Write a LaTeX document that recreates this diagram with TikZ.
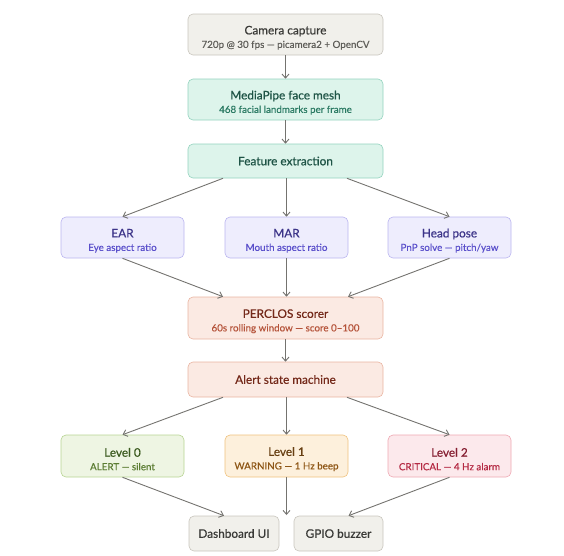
\documentclass[tikz,border=0pt]{standalone}
\usepackage{fontspec}
\setmainfont{Lato}
\usepackage{tikz}
\usetikzlibrary{arrows.meta,calc,positioning}
\definecolor{greyfill}{HTML}{F1F0EB}
\definecolor{greyline}{HTML}{C8C5BD}
\definecolor{greytext}{HTML}{3A3A37}
\definecolor{greysub}{HTML}{5F5E59}
\definecolor{mintfill}{HTML}{DDF4EB}
\definecolor{mintline}{HTML}{93D3BE}
\definecolor{minttext}{HTML}{1E5446}
\definecolor{mintsub}{HTML}{2A7A63}
\definecolor{lilafill}{HTML}{EEEDFD}
\definecolor{lilaline}{HTML}{BAB5EF}
\definecolor{lilatext}{HTML}{3C3489}
\definecolor{lilasub}{HTML}{5A4FCB}
\definecolor{rosefill}{HTML}{FBEAE3}
\definecolor{roseline}{HTML}{E9B4A1}
\definecolor{rosetext}{HTML}{74291A}
\definecolor{rosesub}{HTML}{B5533A}
\definecolor{leaffill}{HTML}{EEF5E3}
\definecolor{leafline}{HTML}{B7D492}
\definecolor{leaftext}{HTML}{3B5A1F}
\definecolor{leafsub}{HTML}{5B7C32}
\definecolor{ambrfill}{HTML}{FDF0DC}
\definecolor{ambrline}{HTML}{EFC27E}
\definecolor{ambrtext}{HTML}{673F12}
\definecolor{ambrsub}{HTML}{8E5615}
\definecolor{redfill}{HTML}{FCE9EC}
\definecolor{redline}{HTML}{EEA8B3}
\definecolor{redtext}{HTML}{851E31}
\definecolor{redsub}{HTML}{B52A44}
\definecolor{arrowgrey}{HTML}{74736F}
\newcommand{\titlefont}{\fontsize{11.8}{14}\selectfont\addfontfeature{FakeBold=0.6}}
\newcommand{\subfont}{\fontsize{9.8}{12}\selectfont\addfontfeature{FakeBold=0.3}}
\newcommand{\boxlabel}[4]{\rule{0pt}{15pt}{\titlefont\color{#3}#1}\\[1.5pt]{\subfont\color{#4}#2}}

\begin{document}
\begin{tikzpicture}[x=1pt, y=-1pt,
    card/.style={draw, rounded corners=5pt, line width=0.6pt, align=center,
      inner sep=0pt, minimum width=195pt, minimum height=41pt},
    small card/.style={card, minimum width=123pt},
    flow/.style={-{Straight Barb[length=4pt,width=7pt]}, arrowgrey, line width=0.9pt}]
            \useasboundingbox (0,0) rectangle (564,555);
            % Pipeline stages
            \node[card, fill=greyfill, draw=greyline] (cam) at (285.5,34.5)
              {\boxlabel{Camera capture}{720p @ 30 fps — picamera2 + OpenCV}{greytext}{greysub}};
            \node[card, fill=mintfill, draw=mintline] (mesh) at (285.5,99.5)
              {\boxlabel{MediaPipe face mesh}{468 facial landmarks per frame}{minttext}{mintsub}};
            \node[card, fill=mintfill, draw=mintline, minimum height=34pt] (feat) at (285.5,161)
              {\titlefont\color{minttext}Feature extraction};
            % Features
            \node[small card, fill=lilafill, draw=lilaline] (ear) at (122.5,237.5)
              {\boxlabel{EAR}{Eye aspect ratio}{lilatext}{lilasub}};
            \node[small card, fill=lilafill, draw=lilaline] (mar) at (286.5,237.5)
              {\boxlabel{MAR}{Mouth aspect ratio}{lilatext}{lilasub}};
            \node[small card, fill=lilafill, draw=lilaline] (pose) at (449.5,237.5)
              {\boxlabel{Head pose}{PnP solve — pitch/yaw}{lilatext}{lilasub}};
            % Scoring
            \node[card, fill=rosefill, draw=roseline, minimum height=42pt] (score) at (285.5,318)
              {\boxlabel{PERCLOS scorer}{60s rolling window — score 0–100}{rosetext}{rosesub}};
            \node[card, fill=rosefill, draw=roseline, minimum height=35pt] (fsm) at (285.5,379.5)
              {\titlefont\color{rosetext}Alert state machine};
            % Alert levels
            \node[small card, fill=leaffill, draw=leafline, minimum height=42pt] (lvl0) at (122.5,456)
              {\boxlabel{Level 0}{ALERT — silent}{leaftext}{leafsub}};
            \node[small card, fill=ambrfill, draw=ambrline, minimum height=42pt] (lvl1) at (286.5,456)
              {\boxlabel{Level 1}{WARNING — 1 Hz beep}{ambrtext}{ambrsub}};
            \node[small card, fill=redfill, draw=redline, minimum height=42pt] (lvl2) at (449.5,456)
              {\boxlabel{Level 2}{CRITICAL — 4 Hz alarm}{redtext}{redsub}};
            % Outputs
            \node[card, fill=greyfill, draw=greyline, minimum width=90pt, minimum height=35pt] (dash) at (234,533.5)
              {\titlefont\color{greytext}Dashboard UI};
            \node[card, fill=greyfill, draw=greyline, minimum width=89pt, minimum height=35pt] (gpio) at (338.5,533.5)
              {\titlefont\color{greytext}GPIO buzzer};
            \coordinate (out) at (286.5,515);
            % Connectors
            \draw[flow] (cam) -- (mesh);
            \draw[flow] (mesh) -- (feat);
            \draw[flow] ($(feat.south)+(-62.5,0)$) -- (ear.north);
            \draw[flow] (feat.south -| mar) -- (mar.north);
            \draw[flow] ($(feat.south)+(61.5,0)$) -- (pose.north);
            \draw[flow] (ear.south) -- ($(score.north)+(-62.5,0)$);
            \draw[flow] (mar.south) -- (mar.south |- score.north);
            \draw[flow] (pose.south) -- ($(score.north)+(62.5,0)$);
            \draw[flow] (score) -- (fsm);
            \draw[flow] ($(fsm.south)+(-62.5,0)$) -- (lvl0.north);
            \draw[flow] (fsm.south -| lvl1) -- (lvl1.north);
            \draw[flow] ($(fsm.south)+(61.5,0)$) -- (lvl2.north);
            \draw[flow] (lvl0.south) -- ($(dash.north)+(-10,0)$);
            \draw[flow] (lvl1.south) -- (out);
            \draw[flow] (lvl2.south) -- ($(gpio.north)+(10,0)$);
\end{tikzpicture}
\end{document}
